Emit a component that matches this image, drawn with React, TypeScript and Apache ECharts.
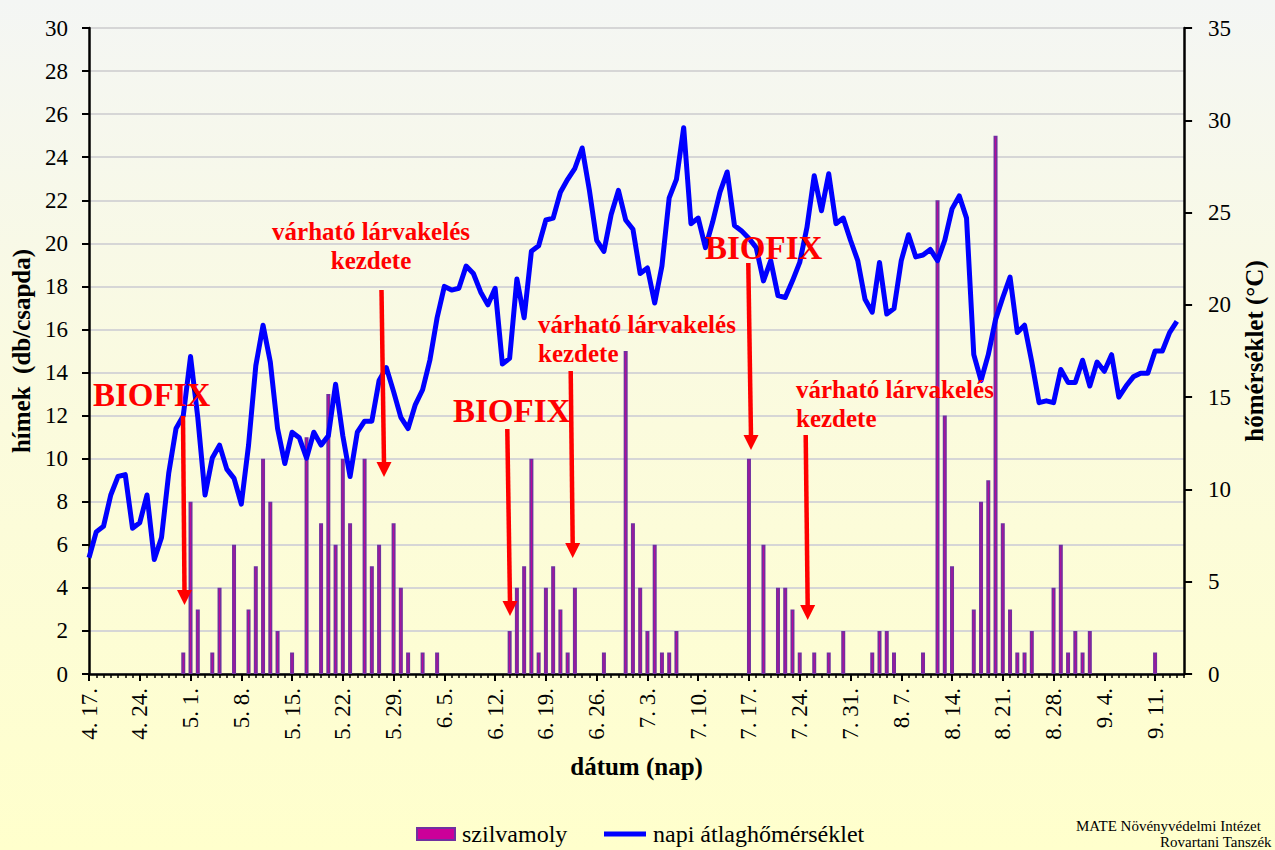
import React, { useEffect, useRef } from "react";
import * as echarts from "echarts";

// ---- data -------------------------------------------------------------
// daily categories 4. 17. ... 9. 15.
const START_DATE = [2021, 3, 17]; // year, month index, day
const DAY_COUNT = 152;
const categories: string[] = (() => {
  const out: string[] = [];
  const d = new Date(START_DATE[0], START_DATE[1], START_DATE[2]);
  for (let i = 0; i < DAY_COUNT; i++) {
    out.push(`${d.getMonth() + 1}. ${d.getDate()}.`);
    d.setDate(d.getDate() + 1);
  }
  return out;
})();

// szilvamoly – males per trap per day
const mothCounts = [
  0, 0, 0, 0, 0, 0, 0, 0, 0, 0,
  0, 0, 0, 1, 8, 3, 0, 1, 4, 0,
  6, 0, 3, 5, 10, 8, 2, 0, 1, 0,
  11, 0, 7, 13, 6, 10, 7, 0, 10, 5,
  6, 0, 7, 4, 1, 0, 1, 0, 1, 0,
  0, 0, 0, 0, 0, 0, 0, 0, 2, 4,
  5, 10, 1, 4, 5, 3, 1, 4, 0, 0,
  0, 1, 0, 0, 15, 7, 4, 2, 6, 1,
  1, 2, 0, 0, 0, 0, 0, 0, 0, 0,
  0, 10, 0, 6, 0, 4, 4, 3, 1, 0,
  1, 0, 1, 0, 2, 0, 0, 0, 1, 2,
  2, 1, 0, 0, 0, 1, 0, 22, 12, 5,
  0, 0, 3, 8, 9, 25, 7, 3, 1, 1,
  2, 0, 0, 4, 6, 1, 2, 1, 2, 0,
  0, 0, 0, 0, 0, 0, 0, 1, 0, 0,
  0, 0,
];

// napi átlaghőmérséklet (°C)
const meanTemp = [
  6.3, 7.7, 8.0, 9.7, 10.7, 10.8, 7.9, 8.2, 9.7, 6.2,
  7.4, 10.9, 13.3, 14.0, 17.2, 13.9, 9.7, 11.7, 12.4, 11.1,
  10.6, 9.2, 12.4, 16.7, 18.9, 16.9, 13.3, 11.4, 13.1, 12.8,
  11.7, 13.1, 12.4, 12.9, 15.7, 12.9, 10.7, 13.1, 13.7, 13.7,
  15.9, 16.6, 15.3, 13.9, 13.3, 14.6, 15.4, 17.0, 19.3, 21.0,
  20.8, 20.9, 22.1, 21.7, 20.7, 20.0, 20.9, 16.8, 17.1, 21.4,
  19.3, 22.9, 23.2, 24.6, 24.7, 26.1, 26.8, 27.4, 28.5, 26.2,
  23.5, 22.9, 24.9, 26.2, 24.6, 24.1, 21.7, 22.0, 20.1, 22.1,
  25.8, 26.8, 29.6, 24.4, 24.7, 23.1, 24.5, 26.1, 27.2, 24.3,
  24.0, 23.6, 23.1, 21.3, 22.4, 20.5, 20.4, 21.3, 22.3, 24.2,
  27.0, 25.1, 27.1, 24.4, 24.7, 23.5, 22.4, 20.3, 19.6, 22.3,
  19.5, 19.8, 22.4, 23.8, 22.6, 22.7, 23.0, 22.4, 23.5, 25.2,
  25.9, 24.7, 17.3, 15.9, 17.3, 19.2, 20.4, 21.5, 18.5, 18.9,
  16.9, 14.7, 14.8, 14.7, 16.5, 15.8, 15.8, 17.0, 15.6, 16.9,
  16.4, 17.3, 15.0, 15.6, 16.1, 16.3, 16.3, 17.5, 17.5, 18.5,
  19.1,
];

const leftTicks = { min: 0, max: 30, interval: 2 };
const rightTicks = { min: 0, max: 35, interval: 5 };

const SERIES_BAR = "szilvamoly";
const SERIES_LINE = "napi átlaghőmérséklet";

// ---- annotations (pixel layout) --------------------------------------
const biofixText = [
  { x: 93, y: 395 },
  { x: 453, y: 411 },
  { x: 705, y: 248 },
];
const larvaText = [
  { x: 371, y: 217, align: "center" },
  { x: 538, y: 310, align: "left" },
  { x: 796, y: 375, align: "left" },
];
const arrows = [
  [183, 416, 184.5, 605],
  [381.5, 290, 384, 477],
  [507.3, 429, 510, 616],
  [570.7, 371, 572.7, 558],
  [748.3, 263, 751, 450],
  [805.7, 435, 807.7, 620],
];

const FONT = '"Liberation Serif", "Times New Roman", serif';
const RED = "#FF0000";

function buildGraphic() {
  const g: any[] = [];
  arrows.forEach(([x1, y1, x2, y2]) => {
    g.push({
      type: "line",
      shape: { x1, y1, x2, y2: y2 - 13 },
      style: { stroke: RED, lineWidth: 4.5 },
      z: 100,
    });
    g.push({
      type: "polygon",
      shape: { points: [[x2 - 7.5, y2 - 15], [x2 + 7.5, y2 - 15], [x2, y2]] },
      style: { fill: RED },
      z: 100,
    });
  });
  biofixText.forEach((t) => {
    g.push({
      type: "text",
      x: t.x,
      y: t.y,
      style: {
        text: "BIOFIX",
        font: `bold 33px ${FONT}`,
        fill: RED,
        textAlign: "left",
        textVerticalAlign: "middle",
      },
      z: 101,
    });
  });
  larvaText.forEach((t) => {
    g.push({
      type: "text",
      x: t.x,
      y: t.y,
      style: {
        text: "várható lárvakelés\nkezdete",
        font: `bold 25px ${FONT}`,
        lineHeight: 29,
        fill: RED,
        textAlign: t.align,
        textVerticalAlign: "top",
      },
      z: 101,
    });
  });
  g.push({
    type: "text",
    x: 1076,
    y: 818,
    style: { text: "MATE Növényvédelmi Intézet", font: `15px ${FONT}`, fill: "#000" },
  });
  g.push({
    type: "text",
    x: 1160,
    y: 834,
    style: { text: "Rovartani Tanszék", font: `15px ${FONT}`, fill: "#000" },
  });
  return g;
}

export default function App() {
  const ref = useRef<HTMLDivElement>(null);
  useEffect(() => {
    if (!ref.current) return;
    const chart = echarts.init(ref.current, null, { renderer: "svg" });
    const legendText = { fontFamily: FONT, fontSize: 24, color: "#000", padding: [0, 0, 0, 2] };
    const option: any = {
      animation: false,
      backgroundColor: {
        type: "linear",
        x: 0,
        y: 0,
        x2: 0,
        y2: 1,
        colorStops: [
          { offset: 0, color: "#F4F6F4" },
          { offset: 0.5, color: "#FBFBDD" },
          { offset: 1, color: "#FFFFCC" },
        ],
      },
      textStyle: { fontFamily: FONT },
      grid: { left: 89, right: 83, top: 28, bottom: 176 },
      legend: [
        {
          data: [{ name: SERIES_BAR, icon: "rect" }],
          left: 416,
          top: 822,
          itemWidth: 38,
          itemHeight: 12,
          padding: 0,
          textStyle: legendText,
        },
        {
          data: [{ name: SERIES_LINE, icon: "rect" }],
          left: 604,
          top: 822,
          itemWidth: 42,
          itemHeight: 5,
          padding: 0,
          textStyle: legendText,
        },
      ],
      xAxis: [
        {
          type: "category",
          data: categories,
          boundaryGap: false,
          position: "bottom",
          name: "dátum (nap)",
          nameLocation: "middle",
          nameGap: 80,
          nameTextStyle: { fontFamily: FONT, fontSize: 25, fontWeight: "bold", color: "#000" },
          axisLine: { show: true, lineStyle: { color: "#000", width: 2.5 } },
          axisTick: { show: true, interval: 6, length: 7, lineStyle: { color: "#000", width: 2 } },
          axisLabel: {
            interval: 6,
            rotate: 90,
            margin: 14,
            fontFamily: FONT,
            fontSize: 23,
            color: "#000",
          },
          splitLine: { show: false },
        },
        {
          type: "category",
          data: categories,
          boundaryGap: false,
          position: "bottom",
          axisLine: { show: false },
          axisTick: { show: true, interval: 0, length: 4, lineStyle: { color: "#000", width: 1.5 } },
          axisLabel: { show: false },
          splitLine: { show: false },
        },
      ],
      yAxis: [
        {
          type: "value",
          ...leftTicks,
          position: "left",
          name: "hímek  (db/csapda)",
          nameLocation: "middle",
          nameRotate: 90,
          nameGap: 50,
          nameTextStyle: { fontFamily: FONT, fontSize: 25, fontWeight: "bold", color: "#000" },
          axisLine: { show: true, lineStyle: { color: "#000", width: 2.5 } },
          axisTick: { show: true, length: 7, lineStyle: { color: "#000", width: 2 } },
          axisLabel: { margin: 21, fontFamily: FONT, fontSize: 23, color: "#000" },
          splitLine: { show: true, lineStyle: { color: "#D6D6D6", width: 2 } },
        },
        {
          type: "value",
          ...rightTicks,
          position: "right",
          name: "hőmérséklet (°C)",
          nameLocation: "middle",
          nameRotate: 90,
          nameGap: 56,
          nameTextStyle: { fontFamily: FONT, fontSize: 25, fontWeight: "bold", color: "#000" },
          axisLine: { show: true, lineStyle: { color: "#000", width: 2.5 } },
          axisTick: { show: true, length: 8, lineStyle: { color: "#000", width: 2 } },
          axisLabel: { margin: 24, fontFamily: FONT, fontSize: 23, color: "#000" },
          splitLine: { show: false },
        },
      ],
      series: [
        {
          name: SERIES_BAR,
          type: "bar",
          xAxisIndex: 0,
          yAxisIndex: 0,
          barWidth: 4,
          data: mothCounts.map((v) => (v === 0 ? null : v)),
          itemStyle: { color: "#CC0099", borderColor: "#7030A0", borderWidth: 1.6 },
          z: 2,
        },
        {
          name: SERIES_LINE,
          type: "line",
          xAxisIndex: 0,
          yAxisIndex: 1,
          data: meanTemp,
          symbol: "none",
          showSymbol: false,
          lineStyle: { color: "#0000FF", width: 5, join: "round" },
          itemStyle: { color: "#0000FF" },
          z: 3,
        },
      ],
      graphic: buildGraphic(),
    };
    chart.setOption(option);
    return () => chart.dispose();
  }, []);
  return (
    <div
      ref={ref}
      style={{ position: "absolute", left: 0, top: 0, width: 1275, height: 850 }}
    />
  );
}
